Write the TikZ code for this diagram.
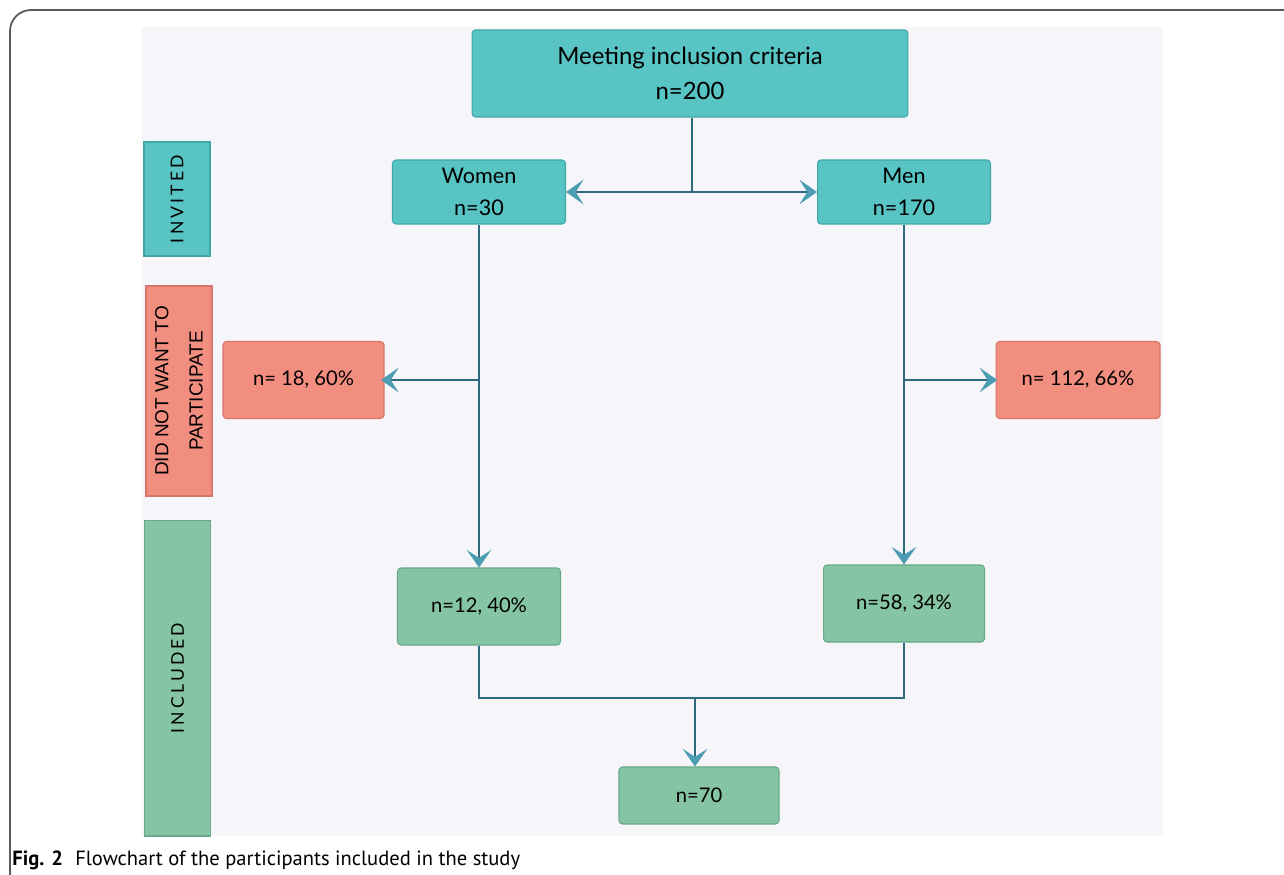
\documentclass[tikz,border=0pt]{standalone}
\usepackage{fontspec}
\usetikzlibrary{arrows.meta}
\newfontfamily\latofont{Lato}
\newfontfamily\sidefont[LetterSpace=18]{Lato}
\newfontfamily\arialfont{Liberation Sans}
\newfontfamily\captionfont{PT Sans}
\definecolor{panelbg}{HTML}{F5F5FA}
\definecolor{tealfill}{HTML}{58C4C4}
\definecolor{tealline}{HTML}{3FA6A6}
\definecolor{redfill}{HTML}{F28E80}
\definecolor{redline}{HTML}{D8766A}
\definecolor{greenfill}{HTML}{86C5A4}
\definecolor{greenline}{HTML}{68A886}
\definecolor{flowline}{HTML}{2F6A7E}
\definecolor{tipcol}{HTML}{4C9CB2}
\begin{document}
\begin{tikzpicture}[x=0.02cm, y=-0.02cm,
    box/.style={draw, line width=0.6pt, rounded corners=2pt, align=center, font=\latofont\fontsize{11.5}{19}\selectfont},
    tealbox/.style={box, fill=tealfill, draw=tealline},
    redbox/.style={box, fill=redfill, draw=redline},
    greenbox/.style={box, fill=greenfill, draw=greenline},
    side/.style={draw, line width=0.6pt, minimum height=1.32cm, rotate=90, font=\sidefont\fontsize{10}{12}\selectfont},
    flow/.style={draw=flowline, line width=1.1pt},
    arr/.style={flow, -{Stealth[length=10pt, width=14pt, inset=4.5pt, color=tipcol]}}]
    \useasboundingbox (0,0) rectangle (1284,875);

    % Frame and panel
    \begin{scope}
      \clip (0,0) rectangle (1284,875);
      \draw[line width=1pt, draw=black!65, rounded corners=12pt] (10,10) rectangle (1320,920);
    \end{scope}
    \fill[panelbg] (142,27) rectangle (1163,836);

    % Side labels
    \node[side, fill=tealfill, draw=tealline, minimum width=2.28cm] (invited) at (177,199) {INVITED};
    \node[side, fill=redfill, draw=redline, minimum width=4.2cm, align=center,
      font=\arialfont\fontsize{10.8}{19.5}\selectfont] (declined) at (179,391) {DID NOT WANT TO\\PARTICIPATE};
    \node[side, fill=greenfill, draw=greenline, minimum width=6.32cm] (included) at (177.5,678) {INCLUDED};

    % Flow boxes
    \node[tealbox, minimum width=8.72cm, minimum height=1.74cm, font=\latofont\fontsize{13.6}{20}\selectfont] (criteria) at (690,73.5)
      {Meeting inclusion criteria\\n=200};
    \node[tealbox, minimum width=3.46cm, minimum height=1.28cm, font=\latofont\fontsize{12.3}{18.5}\selectfont] (women) at (479,192) {Women\\n=30};
    \node[tealbox, minimum width=3.46cm, minimum height=1.28cm, font=\latofont\fontsize{12.3}{18.5}\selectfont] (men) at (904,192) {Men\\n=170};
    \node[redbox, minimum width=3.22cm, minimum height=1.54cm] (wdecl) at (303.5,380) {n= 18, 60\%};
    \node[redbox, minimum width=3.28cm, minimum height=1.54cm] (mdecl) at (1078,380) {n= 112, 66\%};
    \node[greenbox, minimum width=3.26cm, minimum height=1.54cm] (wincl) at (479,606.5) {n=12, 40\%};
    \node[greenbox, minimum width=3.22cm, minimum height=1.54cm] (mincl) at (904,603.5) {n=58, 34\%};
    \node[greenbox, minimum width=3.2cm, minimum height=1.14cm] (total) at (699,795.5) {n=70};

    % Junction points
    \coordinate (split) at (692,192);
    \coordinate (wbranch) at (women.south |- wdecl.east);
    \coordinate (mbranch) at (men.south |- mdecl.west);
    \coordinate (join) at (695,698);

    % Connectors
    \draw[flow] (criteria.south -| split) -- (split);
    \draw[arr] (split) -- (women.east);
    \draw[arr] (split) -- (men.west);
    \draw[arr] (women.south) -- (wincl.north);
    \draw[arr] (men.south) -- (mincl.north);
    \draw[arr] (wbranch) -- ([xshift=-2pt]wdecl.east);
    \draw[arr] (mbranch) -- ([xshift=1pt]mdecl.west);
    \draw[flow] (wincl.south) |- (join) -| (mincl.south);
    \draw[arr] (join) -- (join |- total.north);

    % Caption
    \node[anchor=base west, inner sep=0pt, font=\captionfont\fontsize{11.7}{13}\selectfont] (caption) at (12,865)
      {\textbf{Fig. 2}\hspace{0.6em}Flowchart of the participants included in the study};
  \end{tikzpicture}
\end{document}
